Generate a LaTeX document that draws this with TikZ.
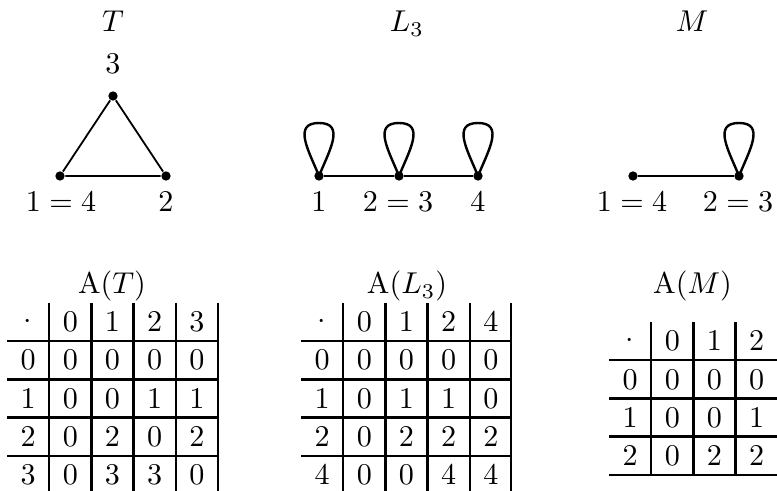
\documentclass[tikz,border=0pt]{standalone}
\tikzset{
  vertex dot/.style={circle, fill=black, inner sep=0pt, minimum size=3.1pt},
  graph edge/.style={line width=0.6pt},
  loop line/.style={line width=0.8pt, looseness=1.3},
  table rule/.style={line width=0.75pt},
  graph name/.style={anchor=base, inner sep=0pt},
  vertex label/.style={anchor=base, inner sep=0pt},
  cell entry/.style={inner sep=0pt}
}
\newcommand{\graphVertex}[3]{%
  \node[vertex dot] (#1) at (#2,#3) {};%
}
\newcommand{\selfLoop}[1]{%
  \draw[loop line] (#1.center) to[out=112,in=180] ++(0,53)
    to[out=0,in=68] (#1.center);%
}

\begin{document}
\begin{tikzpicture}[x=0.332pt,y=0.332pt]
  \useasboundingbox (0,0) rectangle (777,-491);

  % graph T
  \node[graph name] (nameT) at (113,-32) {$T$};
  \graphVertex{t3}{113}{-96}
  \graphVertex{t14}{60}{-176}
  \graphVertex{t2}{166}{-176}
  \draw[graph edge] (t14) -- (t3) -- (t2) -- (t14);
  \node[vertex label] (labT3) at (113,-74) {$3$};
  \node[vertex label] (labT14) at (61,-212) {$1=4$};
  \node[vertex label] (labT2) at (166,-212) {$2$};

  % graph L_3
  \node[graph name] (nameL) at (407,-32) {$L_3$};
  \graphVertex{l1}{319}{-176}
  \graphVertex{l23}{399}{-176}
  \graphVertex{l4}{478}{-176}
  \draw[graph edge] (l1) -- (l23) -- (l4);
  \selfLoop{l1}
  \selfLoop{l23}
  \selfLoop{l4}
  \node[vertex label] (labL1) at (319,-212) {$1$};
  \node[vertex label] (labL23) at (398,-212) {$2=3$};
  \node[vertex label] (labL4) at (478,-212) {$4$};

  % graph M
  \node[graph name] (nameM) at (692,-32) {$M$};
  \graphVertex{m14}{633}{-176}
  \graphVertex{m23}{739}{-176}
  \draw[graph edge] (m14) -- (m23);
  \selfLoop{m23}
  \node[vertex label] (labM14) at (632,-212) {$1=4$};
  \node[vertex label] (labM23) at (738,-212) {$2=3$};

  % A(T)
  \node[graph name] (tabNameT) at (112,-294) {$\mathrm{A}(T)$};
  \foreach \row [count=\r from 0] in
      {{\cdot,0,1,2,3},{0,0,0,0,0},{1,0,0,1,1},{2,0,2,0,2},{3,0,3,3,0}}
    \foreach \entry [count=\c from 0] in \row
      \node[cell entry] (T-\r-\c) at ({28.1+42.2*\c},{-322-38.2*\r}) {$\entry$};
  \foreach \x in {49.2,91.4,133.6,175.8,218}
    \draw[table rule] (\x,-303) -- (\x,-494);
  \foreach \y in {341.2,379.4,417.6,455.8,494}
    \draw[table rule] (7,-\y) -- (218,-\y);

  % A(L_3)
  \node[graph name] (tabNameL) at (407,-294) {$\mathrm{A}(L_3)$};
  \foreach \row [count=\r from 0] in
      {{\cdot,0,1,2,4},{0,0,0,0,0},{1,0,1,1,0},{2,0,2,2,2},{4,0,0,4,4}}
    \foreach \entry [count=\c from 0] in \row
      \node[cell entry] (L-\r-\c) at ({322.1+42.2*\c},{-322-38.2*\r}) {$\entry$};
  \foreach \x in {343.2,385.4,427.6,469.8,511}
    \draw[table rule] (\x,-303) -- (\x,-494);
  \foreach \y in {341.2,379.4,417.6,455.8,494}
    \draw[table rule] (301,-\y) -- (511,-\y);

  % A(M)
  \node[graph name] (tabNameM) at (692.5,-294) {$\mathrm{A}(M)$};
  \foreach \row [count=\r from 0] in
      {{\cdot,0,1,2},{0,0,0,0},{1,0,0,1},{2,0,2,2}}
    \foreach \entry [count=\c from 0] in \row
      \node[cell entry] (M-\r-\c) at ({630.1+42.2*\c},{-341.1-38.2*\r}) {$\entry$};
  \foreach \x in {651.2,693.4,735.6,777.8}
    \draw[table rule] (\x,-322) -- (\x,-474.8);
  \foreach \y in {360.2,398.4,436.6,474.8}
    \draw[table rule] (609,-\y) -- (777.8,-\y);
\end{tikzpicture}
\end{document}
